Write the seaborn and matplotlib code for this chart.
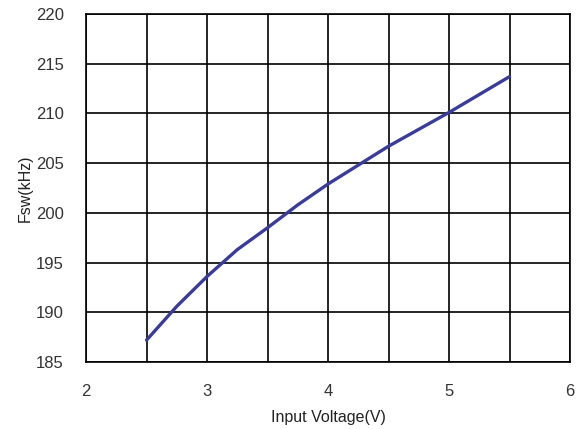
import matplotlib
matplotlib.use("Agg")
import matplotlib.pyplot as plt
import pandas as pd
import seaborn as sns

input_voltage = [2.5, 2.75, 3.0, 3.25, 3.5, 3.75, 4.0, 4.25, 4.5, 4.75, 5.0, 5.25, 5.5]
fsw_khz = [187.2, 190.6, 193.6, 196.3, 198.5, 200.8, 202.9, 204.8, 206.7, 208.4, 210.1, 211.9, 213.7]

data = pd.DataFrame({"vin": input_voltage, "fsw": fsw_khz})

sns.set_style("white")
plt.rcParams["font.family"] = ["Liberation Sans", "DejaVu Sans"]

fig = plt.figure(figsize=(5.82, 4.29), dpi=100)
ax = fig.add_axes([0.1478, 0.1562, 0.8316, 0.8112])

sns.lineplot(data=data, x="vin", y="fsw", color="#3a3c9c", linewidth=2.4, ax=ax)

ax.set_xlim(2, 6)
ax.set_ylim(185, 220)
ax.set_xticks([2, 3, 4, 5, 6])
ax.set_xticks([2.5, 3.5, 4.5, 5.5], minor=True)
ax.set_yticks(range(185, 221, 5))
ax.grid(True, which="both", color="black", linewidth=1.2)
ax.set_axisbelow(True)
ax.tick_params(which="both", length=0, labelsize=12, colors="#333333")
ax.tick_params(axis="x", pad=16)
ax.tick_params(axis="y", pad=16)
for s in ax.spines.values():
    s.set_color("black")
    s.set_linewidth(1.2)

ax.set_xlabel("Input Voltage(V)", fontsize=11.5, color="#222222", labelpad=8)
ax.set_ylabel("Fsw(kHz)", fontsize=11.5, color="#222222", labelpad=2)

fig.savefig("out.png", dpi=100)
